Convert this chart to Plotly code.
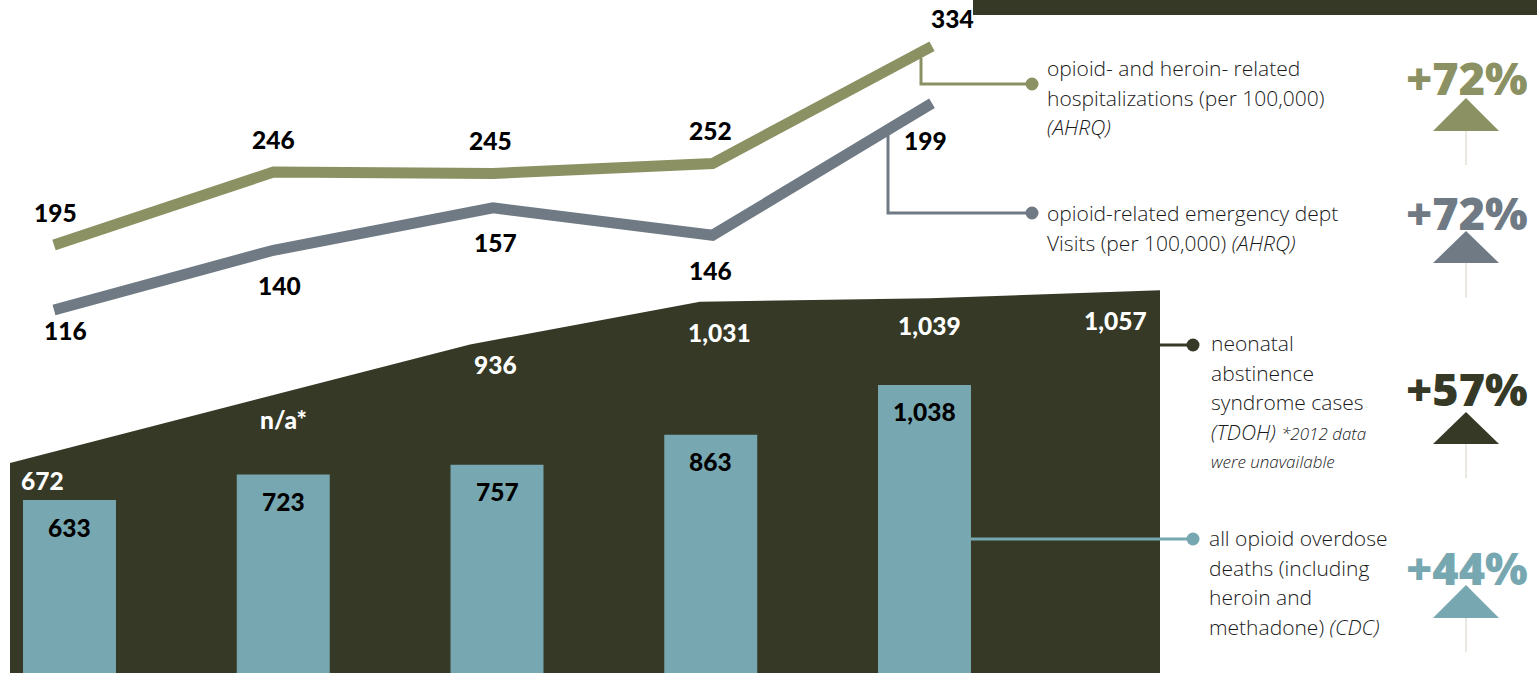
import plotly.graph_objects as go

W, H = 1537, 673

# ---- data -------------------------------------------------------------
years = [2011, 2012, 2013, 2014, 2015]
nas_years = [2011, 2012, 2013, 2014, 2015, 2016]

hospitalizations = [195, 246, 245, 252, 334]      # per 100,000 (AHRQ)
ed_visits = [116, 140, 157, 146, 199]             # per 100,000 (AHRQ)
nas_cases = [672, None, 936, 1031, 1039, 1057]    # TDOH, 2012 unavailable
overdose_deaths = [633, 723, 757, 863, 1038]      # CDC

pct_labels = ["+72%", "+72%", "+57%", "+44%"]

# ---- colours ----------------------------------------------------------
OLIVE = "#8b9162"
SLATE = "#6f7a84"
DARK = "#353926"
TEAL = "#77a8b1"
INK = "#1a1a1a"
FAINT = "#e3e1d6"

NUM_FONT = dict(family="Lato, 'Open Sans', sans-serif", size=24.5, color="#000000", weight=900)
TXT_FONT = dict(family="'Open Sans', Lato, sans-serif", size=21, color=INK, weight=350)
PCT_FAMILY = "'Open Sans', Lato, sans-serif"


def xrange_for(v0, p0, k):
    """Axis range putting value v0 at pixel p0 with k pixels per unit."""
    return [v0 - p0 / k, v0 + (W - p0) / k]


def yrange_for(v0, p0, k):
    return [v0 - (H - p0) / k, v0 + p0 / k]


def X(px):
    return px / W


def Y(py):
    return 1 - py / H


fig = go.Figure()

# neonatal abstinence syndrome: dark area behind everything
nas_x = [y for y, v in zip(nas_years, nas_cases) if v is not None]
nas_y = [v for v in nas_cases if v is not None]
fig.add_trace(go.Scatter(x=nas_x, y=nas_y, mode="lines", fill="tozeroy",
                         fillcolor=DARK, line=dict(width=0, color=DARK),
                         xaxis="x", yaxis="y", hoverinfo="skip"))

# overdose deaths bars
fig.add_trace(go.Bar(x=years, y=overdose_deaths, width=0.435,
                     marker=dict(color=TEAL, line=dict(width=0)),
                     xaxis="x2", yaxis="y2", hoverinfo="skip"))

# hospitalizations line
fig.add_trace(go.Scatter(x=years, y=hospitalizations, mode="lines",
                         line=dict(color=OLIVE, width=11),
                         xaxis="x3", yaxis="y3", hoverinfo="skip"))

# ED visits line
fig.add_trace(go.Scatter(x=years, y=ed_visits, mode="lines",
                         line=dict(color=SLATE, width=11),
                         xaxis="x3", yaxis="y4", hoverinfo="skip"))

hidden = dict(visible=False, showgrid=False, zeroline=False, fixedrange=True)

fig.update_layout(
    width=W, height=H,
    margin=dict(l=0, r=0, t=0, b=0),
    paper_bgcolor="white", plot_bgcolor="rgba(0,0,0,0)",
    showlegend=False,
    xaxis=dict(domain=[0, 1], range=xrange_for(2011, 10, 230), **hidden),
    yaxis=dict(domain=[0, 1], range=yrange_for(672, 463, 0.449), **hidden),
    xaxis2=dict(overlaying="x", range=xrange_for(2011, 69.5, 213.75), anchor="y2", **hidden),
    yaxis2=dict(overlaying="y", range=yrange_for(633, 500, 0.284), anchor="x2", **hidden),
    xaxis3=dict(overlaying="x", range=xrange_for(2011, 54, 219.5), anchor="y3", **hidden),
    yaxis3=dict(overlaying="y", range=yrange_for(195, 245, 1.43), anchor="x3", **hidden),
    yaxis4=dict(overlaying="y", range=yrange_for(116, 310, 2.49), anchor="x3", **hidden),
)

ann = []

# value labels on the hospitalization line (above)
hosp_shift = [(1, 33), (0, 33), (-3, 33), (-2, 33), (20, 28)]
for yr, v, (dx, dy) in zip(years, hospitalizations, hosp_shift):
    ann.append(dict(x=yr, y=v, xref="x3", yref="y3", text=f"{v:,}", showarrow=False,
                    xshift=dx, yshift=dy, font=NUM_FONT))

# value labels on the ED line (below)
ed_shift = [(11, -20), (6, -35), (2, -35), (-2, -35), (-7, -37)]
for yr, v, (dx, dy) in zip(years, ed_visits, ed_shift):
    ann.append(dict(x=yr, y=v, xref="x3", yref="y4", text=f"{v:,}", showarrow=False,
                    xshift=dx, yshift=dy, font=NUM_FONT))

# bar labels inside the top of each bar
for yr, v in zip(years, overdose_deaths):
    ann.append(dict(x=yr, y=v, xref="x2", yref="y2", text=f"{v:,}", showarrow=False,
                    yshift=-27, font=NUM_FONT))

# NAS labels in white on the dark area
nas_shift = [(-27, -17), (0, -16), (-2, -20), (9, -31), (5, -27), (-23, -30)]
for i, (yr, v, (dx, dy)) in enumerate(zip(nas_years, nas_cases, nas_shift)):
    if v is None:
        yv = (nas_cases[i - 1] + nas_cases[i + 1]) / 2
        label = "n/a*"
    else:
        yv = v
        label = f"{v:,}"
    ann.append(dict(x=yr, y=yv, xref="x2", yref="y", text=label, showarrow=False,
                    xshift=dx, yshift=dy, font=dict(NUM_FONT, color="white")))

# series descriptions
legend_blocks = [
    (1045, 68, ["opioid- and heroin- related", "hospitalizations (per 100,000)", "<i>(AHRQ)</i>"]),
    (1045, 213, ["opioid-related emergency dept", "Visits (per 100,000) <i>(AHRQ)</i>"]),
    (1209, 343, ["neonatal", "abstinence", "syndrome cases",
                 "<i>(TDOH) <span style='font-size:17px'>*2012 data</span></i>",
                 "<i><span style='font-size:17px'>were unavailable</span></i>"]),
    (1207, 538, ["all opioid overdose", "deaths (including", "heroin and",
                 "methadone) <i>(CDC)</i>"]),
]
for x0, y0, lines in legend_blocks:
    for j, line in enumerate(lines):
        ann.append(dict(x=X(x0), y=Y(y0 + j * 29.5), xref="paper", yref="paper",
                        text=line, showarrow=False, xanchor="left", yanchor="middle",
                        font=TXT_FONT))

# percentage change badges
badge_rows = [(77, 98, 131, 165, OLIVE), (212, 231, 263, 298, SLATE),
              (389, 412, 444, 478, DARK), (567, 585, 618, 652, TEAL)]
shapes = []
for label, (ty, apex, base, tail, col) in zip(pct_labels, badge_rows):
    ann.append(dict(x=X(1467), y=Y(ty), xref="paper", yref="paper", text=label,
                    showarrow=False, xanchor="center", yanchor="middle",
                    font=dict(family=PCT_FAMILY, size=45, color=col, weight=800)))
    shapes.append(dict(type="line", xref="paper", yref="paper",
                       x0=X(1466), x1=X(1466), y0=Y(base), y1=Y(tail),
                       line=dict(color=FAINT, width=1.5)))
    shapes.append(dict(type="path", xref="paper", yref="paper",
                       path=f"M {X(1433)},{Y(base)} L {X(1466)},{Y(apex)} L {X(1499)},{Y(base)} Z",
                       fillcolor=col, line=dict(width=0)))

# header band at the top right
shapes.append(dict(type="rect", xref="paper", yref="paper", x0=X(973), x1=1,
                   y0=Y(15), y1=1, fillcolor=DARK, line=dict(width=0), layer="below"))

# leader lines joining series to their descriptions
leaders = [
    ([(921, 58), (921, 84), (1032, 84)], OLIVE),
    ([(888, 127), (888, 213), (1032, 213)], SLATE),
    ([(1160, 345), (1193, 345)], DARK),
    ([(971, 539), (1193, 539)], TEAL),
]
for pts, col in leaders:
    path = "M " + " L ".join(f"{X(px)},{Y(py)}" for px, py in pts)
    shapes.append(dict(type="path", xref="paper", yref="paper", path=path,
                       line=dict(color=col, width=3)))
    ex, ey = pts[-1]
    r = 6.5
    shapes.append(dict(type="circle", xref="paper", yref="paper",
                       x0=X(ex - r), x1=X(ex + r), y0=Y(ey + r), y1=Y(ey - r),
                       fillcolor=col, line=dict(width=0)))

fig.update_layout(annotations=ann, shapes=shapes)

fig.write_html("out.html")
